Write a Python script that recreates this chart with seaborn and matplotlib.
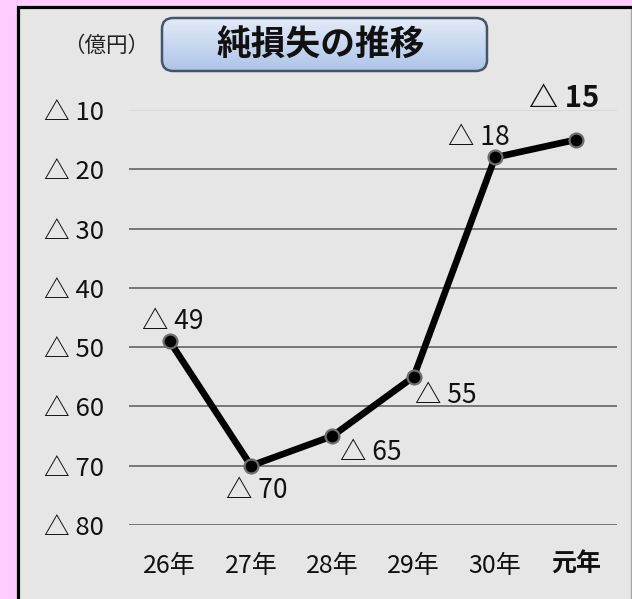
'''
net loss trend chart (純損失の推移)
'''

import matplotlib.pyplot as plt
import seaborn as sns
import numpy as np
import pandas as pd
from matplotlib.patches import Rectangle, FancyBboxPatch
from matplotlib.lines import Line2D

years = ["26年", "27年", "28年", "29年", "30年", "元年"]
net_loss = [49, 70, 65, 55, 18, 15]
y_ticks = [10, 20, 30, 40, 50, 60, 70, 80]
# label offsets in pixels (dx, dy), dy positive = down
label_offsets = [(3, -20), (6, 25), (38, 16), (32, 19), (-16, -20), (-12, -42)]

sns.set_theme(style="white")
plt.rcParams['font.family'] = ['Noto Sans CJK JP', 'DejaVu Sans']

W, H = 632, 599
fig = plt.figure(figsize=(W / 100, H / 100), dpi=100, facecolor="#FFCCFF")

# grey panel with black frame
fig.patches.append(Rectangle((17.5 / W, -0.1), 1.2, 1 - 7.5 / H + 0.1,
                             transform=fig.transFigure, facecolor="#E6E6E6",
                             edgecolor="black", linewidth=2.3, zorder=0))
fig.lines.append(Line2D([631 / W, 631 / W], [0, 1 - 9 / H], transform=fig.transFigure,
                        color="#A6A6A6", linewidth=1))

ax = fig.add_axes([129 / W, (H - 525) / H, (617 - 129) / W, (525 - 110) / H])
ax.set_facecolor("none")

df = pd.DataFrame({"year": years, "loss": net_loss})
sns.lineplot(data=df, x="year", y="loss", ax=ax, sort=False, color="black",
             linewidth=4.8, marker="o", markersize=10, markerfacecolor="black",
             markeredgecolor="#6E6E6E", markeredgewidth=1.6, zorder=5, clip_on=False)

ax.set_xlim(-0.5, len(years) - 0.5)
ax.set_ylim(80, 10)
ax.set_yticks(y_ticks)
ax.set_yticklabels([f"△ {v}" for v in y_ticks], fontsize=18.5)
ax.set_xticks(range(len(years)))
ax.set_xticklabels(years, fontsize=18)
ax.get_xticklabels()[-1].set_fontweight("bold")
ax.tick_params(axis="y", length=0, pad=18, colors="#111111")
ax.tick_params(axis="x", length=0, pad=20, colors="#111111")
ax.set_xlabel("")
ax.set_ylabel("")
for s in ax.spines.values():
    s.set_visible(False)

ax.yaxis.grid(True, color="#595959", linewidth=1.1)
ax.set_axisbelow(True)
for tick, gl in zip(y_ticks, ax.get_ygridlines()):
    if tick == 10:
        gl.set_color("#D3D3D3")

for i, (v, (dx, dy)) in enumerate(zip(net_loss, label_offsets)):
    bold = i == len(net_loss) - 1
    ax.annotate(f"△ {v}", (i, v), xytext=(dx, -dy), textcoords="offset pixels",
                ha="center", va="center", fontsize=21 if bold else 19,
                fontweight="bold" if bold else "normal", color="#111111",
                annotation_clip=False)

# title box with vertical gradient
bx0, bx1, by0, by1 = 162, 487, 18, 71
grad = np.linspace(0, 1, 100).reshape(-1, 1)
top = np.array([0.89, 0.92, 0.97])
bottom = np.array([0.68, 0.77, 0.91])
img = top + (bottom - top) * grad[:, :, None]
gax = fig.add_axes([0, 0, 1, 1])
gax.set_axis_off()
gax.set_xlim(0, 1)
gax.set_ylim(0, 1)
im = gax.imshow(img, extent=[bx0 / W, bx1 / W, 1 - by1 / H, 1 - by0 / H],
                aspect="auto", zorder=2)
clip = FancyBboxPatch((bx0 / W, 1 - by1 / H), (bx1 - bx0) / W, (by1 - by0) / H,
                      boxstyle="round,pad=0,rounding_size=0.018",
                      transform=gax.transData, facecolor="none", edgecolor="none")
gax.add_patch(clip)
im.set_clip_path(clip)
gax.add_patch(FancyBboxPatch((bx0 / W, 1 - by1 / H), (bx1 - bx0) / W, (by1 - by0) / H,
                             boxstyle="round,pad=0,rounding_size=0.018",
                             transform=gax.transData, facecolor="none",
                             edgecolor="#44546A", linewidth=1.8, zorder=3))
gax.set_zorder(1)
ax.set_zorder(2)

fig.text(321 / W, 1 - 44 / H, "純損失の推移", fontsize=25, fontweight="bold",
         ha="center", va="center", color="#111111", zorder=4)
fig.text(106 / W, 1 - 46 / H, "（億円）", fontsize=15.5, ha="center", va="center",
         color="#222222")

plt.savefig("out.png", dpi=100, facecolor=fig.get_facecolor())
